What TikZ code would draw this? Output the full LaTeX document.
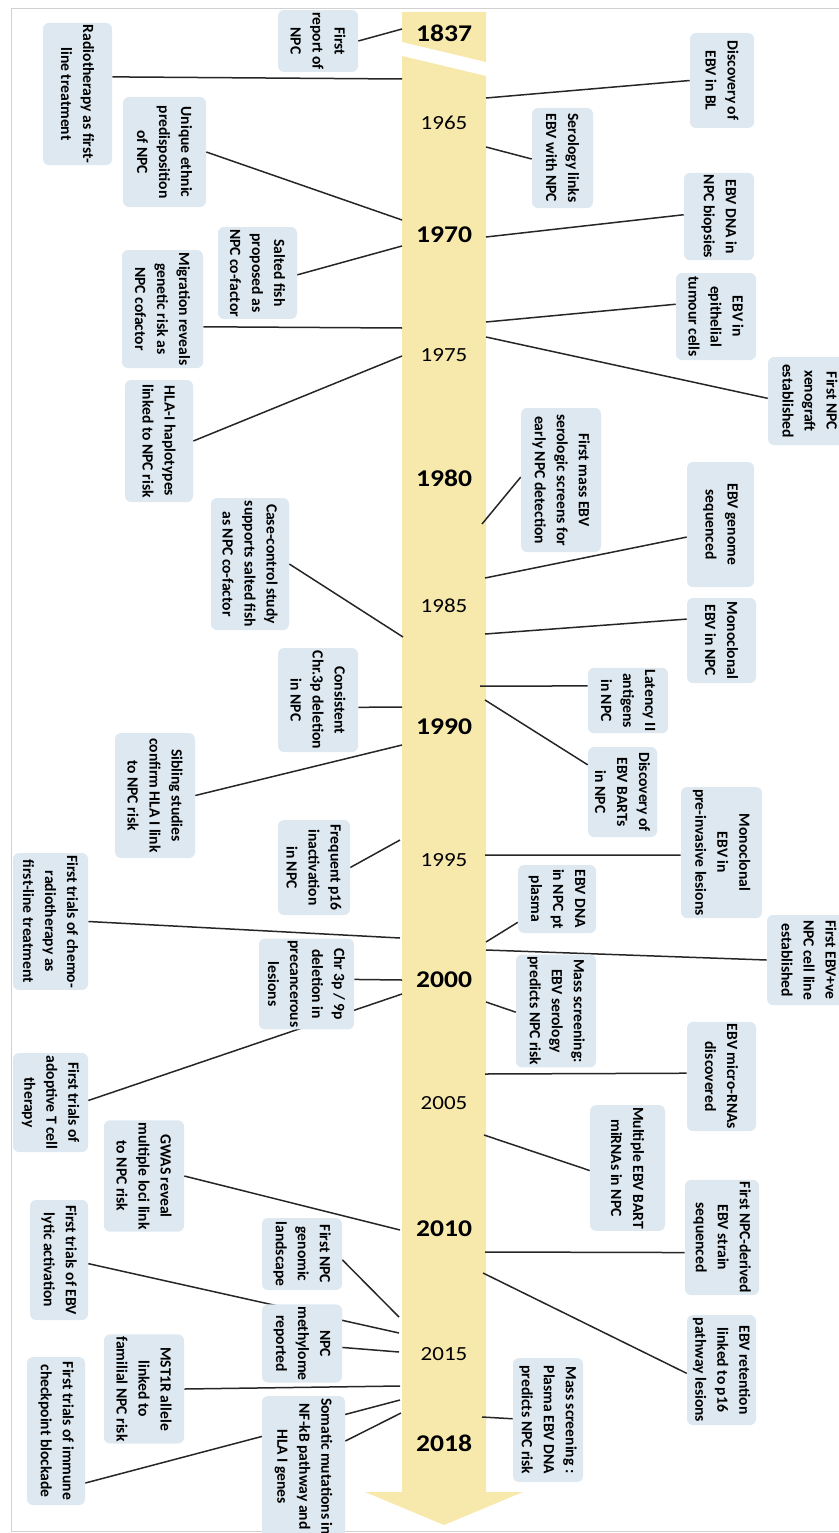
\documentclass[tikz,border=0pt]{standalone}
\usepackage{fontspec}
\setmainfont{Carlito}
\usepackage{graphicx}
\usetikzlibrary{calc,backgrounds}
\tikzset{
  every picture/.append style={line width=0.6pt},
}
\tikzset{
  evt/.style={fill=boxblue, rounded corners=6pt, rotate=-90, align=center, inner sep=2pt,
    font=\fontsize{15.6}{22}\selectfont\bfseries},
  boxsize/.style 2 args={minimum height=#1, minimum width=#2},
  link/.style={draw=black!85, line width=1.5pt},
  majoryr/.style={inner sep=0pt, font=\fontsize{24}{24}\selectfont\bfseries},
  minoryr/.style={inner sep=0pt, font=\fontsize{20}{20}\selectfont}
}

\begin{document}
\begin{tikzpicture}[x=1pt, y=-1pt]
% Color definitions
\definecolor{bandyellow}{RGB}{247,232,172}
\definecolor{boxblue}{RGB}{221,232,240}

\useasboundingbox (0,0) rectangle (838,1533);

% Events left of the time line
\node[evt, boxsize={80pt}{58pt}] (first) at (318,41) {First\\report of\\NPC};
\node[evt, boxsize={69pt}{142pt}] (radio) at (77.5,94) {Radiotherapy as first-\\line treatment};
\node[evt, boxsize={83pt}{110pt}] (unique) at (164.5,152) {Unique ethnic\\predisposition\\of NPC};
\node[evt, boxsize={79pt}{90pt}] (salted) at (257.5,273) {Salted fish\\proposed as\\NPC co-factor};
\node[evt, boxsize={81pt}{118pt}] (migr) at (162.5,309) {Migration reveals\\genetic risk as\\NPC cofactor};
\node[evt, boxsize={68pt}{122pt}] (hla) at (159,441) {HLA-I haplotypes\\linked to NPC risk};
\node[evt, boxsize={78pt}{132pt}] (casec) at (250,564) {Case-control study\\supports salted fish\\as NPC co-factor};
\node[evt, boxsize={80pt}{104pt}] (consist) at (318,700) {Consistent\\Chr.3p deletion\\in NPC};
\node[evt, boxsize={80pt}{125pt}] (sibl) at (155,795.5) {Sibling studies\\confirm HLA I link\\to NPC risk};
\node[evt, boxsize={72pt}{95pt}] (pstx) at (314,867.5) {Frequent p16\\inactivation\\in NPC};
\node[evt, boxsize={75pt}{133pt}] (chemo) at (50.5,921.5) {First trials of chemo-\\radiotherapy as\\first-line treatment};
\node[evt, boxsize={95pt}{88pt}] (chr) at (306.5,984) {Chr 3p / 9p\\deletion in\\precancerous\\lesions};
\node[evt, boxsize={75pt}{99pt}] (adopt) at (50.5,1102.5) {First trials of\\adoptive T cell\\therapy};
\node[evt, boxsize={80pt}{108pt}] (gwas) at (144,1176) {GWAS reveal\\multiple loci link\\to NPC risk};
\node[evt, boxsize={80pt}{72pt}] (genom) at (302,1254) {First NPC\\genomic\\landscape};
\node[evt, boxsize={58pt}{120pt}] (lytic) at (59,1260) {First trials of EBV\\lytic activation};
\node[evt, boxsize={80pt}{77pt}] (methyl) at (302,1343.5) {NPC\\methylome\\reported};
\node[evt, boxsize={80pt}{102pt}] (mstr) at (144,1389) {MST1R allele\\linked to\\familial NPC risk};
\node[evt, boxsize={58pt}{148pt}] (immune) at (56,1431) {First trials of immune\\checkpoint blockade};
\node[evt, boxsize={83pt}{133pt}] (somat) at (303.5,1466.5) {Somatic mutations in\\NF-kB pathway and\\HLA I genes};

% Events right of the time line
\node[evt, boxsize={64pt}{95pt}] (discbl) at (722,80.5) {Discovery of\\EBV in BL};
\node[evt, boxsize={61pt}{100pt}] (serol) at (562.5,158) {Serology links\\EBV with NPC};
\node[evt, boxsize={70pt}{83pt}] (dnabio) at (719,216.5) {EBV DNA in\\NPC biopsies};
\node[evt, boxsize={80pt}{87pt}] (epith) at (716,316.5) {EBV in\\epithelial\\tumour cells};
\node[evt, boxsize={84pt}{88pt}] (xeno) at (810,401) {First NPC\\xenograft\\established};
\node[evt, boxsize={80pt}{144pt}] (massfirst) at (561,480) {First mass EBV\\serologic screens for\\early NPC detection};
\node[evt, boxsize={67pt}{125pt}] (genseq) at (720.5,524.5) {EBV genome\\sequenced};
\node[evt, boxsize={69pt}{85pt}] (monocl) at (721.5,640.5) {Monoclonal\\EBV in NPC};
\node[evt, boxsize={80pt}{65pt}] (latency) at (628,700.5) {Latency II\\antigens\\in NPC};
\node[evt, boxsize={69pt}{90pt}] (barts) at (622.5,792) {Discovery of\\EBV BARTs\\in NPC};
\node[evt, boxsize={81pt}{131pt}] (preinv) at (721.5,852.5) {Monoclonal\\EBV in\\pre-invasive lesions};
\node[evt, boxsize={78pt}{68pt}] (plasma) at (557,899) {EBV DNA\\in NPC pt\\plasma};
\node[evt, boxsize={84pt}{90pt}] (cellline) at (809,960) {First EBV+ve\\NPC cell line\\established};
\node[evt, boxsize={80pt}{102pt}] (massser) at (556,1011) {Mass screening:\\EBV serology\\predicts NPC risk};
\node[evt, boxsize={69pt}{103pt}] (mirna) at (721.5,1076.5) {EBV micro-RNAs\\discovered};
\node[evt, boxsize={75pt}{120pt}] (bartmi) at (627.5,1168) {Multiple EBV BART\\miRNAs in NPC};
\node[evt, boxsize={74pt}{115pt}] (strain) at (722,1237.5) {First NPC-derived\\EBV strain\\sequenced};
\node[evt, boxsize={69pt}{110pt}] (retent) at (721.5,1370) {EBV retention\\linked to p16\\pathway lesions};
\node[evt, boxsize={70pt}{124pt}] (plscr) at (548,1420) {Mass screening :\\Plasma EBV DNA\\predicts NPC risk};

\begin{scope}[on background layer]
% Page frame and time arrow
\draw[black!18, line width=0.8pt] (11,8) rectangle (846,1531);
\fill[bandyellow] (402,12) -- (486,12) -- (486,62) -- (402,42) -- cycle;
\fill[bandyellow] (402,56) -- (486,76) -- (486,1492) -- (523,1492) -- (444,1525)
  -- (365,1492) -- (402,1492) -- cycle;

% Where the connectors meet the arrow
\foreach \n/\px/\py in {first/402/29, radio/402/79, unique/402/220, salted/402/246,
  migr/402/328, hla/402/356, casec/403/637, consist/402/707, sibl/402/745,
  pstx/400/840, chemo/400/938, chr/402/980, adopt/402/994, gwas/400/1230,
  genom/399/1317, lytic/399/1333, methyl/399/1352, mstr/400/1386,
  immune/400/1400, somat/401/1413,
  discbl/486/98, serol/486/147, dnabio/486/237, epith/486/322, xeno/486/337,
  massfirst/482/524, genseq/485/578, monocl/485/634, latency/480/686,
  barts/485/700, preinv/485/855, plasma/486/942, cellline/486/950,
  massser/486/1002, mirna/485/1074, bartmi/484/1135, strain/485/1252,
  retent/483/1273, plscr/482/1417}
  \coordinate (b-\n) at (\px,\py);

% Connectors
\foreach \n/\fr in {first/.5, radio/.38, unique/.5, salted/.52, migr/.65, hla/.5,
  casec/.5, consist/.57, sibl/.5, pstx/.5, chemo/.5, chr/.45, adopt/.48,
  gwas/.5, genom/.58, lytic/.53, methyl/.55, mstr/.5, immune/.85, somat/.32}
  \draw[link] ($(\n.north west)!\fr!(\n.north east)$) -- (b-\n);
\foreach \n/\fr in {discbl/.5, serol/.51, dnabio/.48, epith/.36, xeno/.47,
  massfirst/.48, genseq/.6, monocl/.25, latency/.28, barts/.2, preinv/.52,
  plasma/.84, cellline/.5, massser/.51, mirna/.47, bartmi/.52, strain/.63,
  retent/.53, plscr/.49}
  \draw[link] ($(\n.south west)!\fr!(\n.south east)$) -- (b-\n);
\end{scope}

% Years
\foreach \yr/\py in {1837/33, 1970/235, 1980/478, 1990/727, 2000/980, 2010/1229, 2018/1443}
  \node[majoryr] (y\yr) at (444,\py) {\scalebox{1.15}[1]{\yr}};
\foreach \yr/\py in {1965/123, 1975/355, 1985/606, 1995/860, 2005/1103, 2015/1354}
  \node[minoryr] (y\yr) at (444,\py) {\scalebox{1.15}[1]{\yr}};
\end{tikzpicture}
\end{document}
